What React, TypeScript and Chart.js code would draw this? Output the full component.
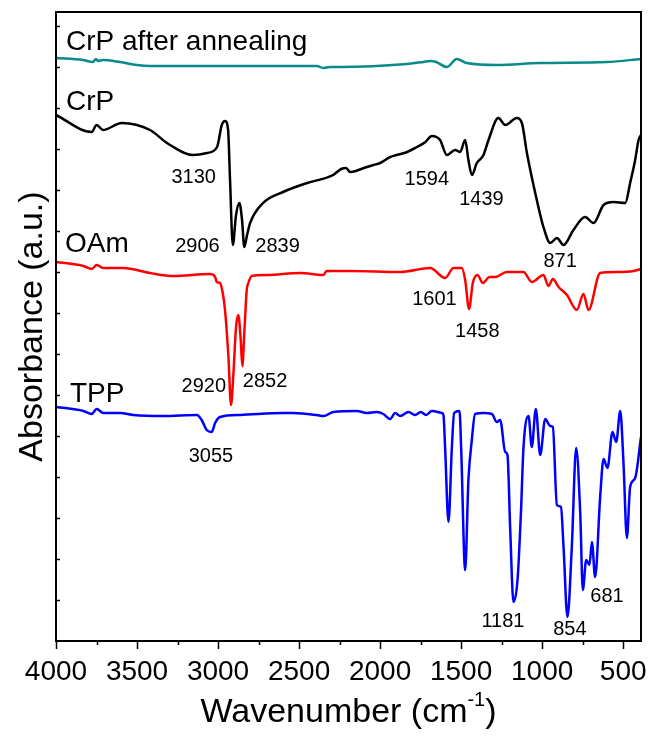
import React, { useEffect, useRef } from "react";
import { Chart, registerables } from "chart.js";

Chart.register(...registerables);

// ---- data (wavenumber in cm-1, absorbance in a.u., stacked/offset) ----
const crpAnnealWn = [4000, 3833, 3772, 3753, 3741, 3710, 3605, 3500, 3420, 3111, 2700, 2389, 2352, 2309, 2247, 1835, 1733, 1691, 1654, 1588, 1527, 1465, 1280, 1012, 600, 390];
const crpAnnealAbs = [5.83, 5.81, 5.79, 5.82, 5.80, 5.81, 5.79, 5.76, 5.75, 5.75, 5.75, 5.75, 5.73, 5.74, 5.74, 5.77, 5.79, 5.80, 5.79, 5.74, 5.82, 5.78, 5.76, 5.78, 5.79, 5.82];

const crpWn = [4000, 3780, 3749, 3710, 3594, 3420, 3315, 3154, 3068, 3006, 2977, 2957, 2938, 2926, 2909, 2889, 2868, 2852, 2838, 2821, 2802, 2722, 2599, 2451, 2290, 2240, 2210, 2185, 2150, 2100, 2041, 2000, 1938, 1900, 1850, 1773, 1720, 1681, 1630, 1588, 1537, 1506, 1475, 1455, 1434, 1403, 1362, 1331, 1270, 1228, 1156, 1125, 1094, 1033, 992, 950, 909, 868, 807, 735, 683, 621, 560, 487, 457, 426, 405, 390];
const crpAbs = [5.26, 5.09, 5.16, 5.11, 5.18, 5.11, 4.98, 4.86, 4.88, 4.94, 5.16, 5.20, 5.11, 4.61, 3.96, 4.26, 4.38, 4.21, 3.94, 4.06, 4.18, 4.38, 4.49, 4.58, 4.66, 4.72, 4.73, 4.69, 4.70, 4.73, 4.76, 4.78, 4.84, 4.86, 4.88, 4.94, 4.99, 5.05, 5.01, 4.86, 4.91, 4.89, 5.01, 4.81, 4.66, 4.78, 4.86, 5.01, 5.23, 5.16, 5.23, 5.18, 4.88, 4.41, 4.14, 3.98, 4.03, 3.96, 4.11, 4.24, 4.18, 4.36, 4.39, 4.38, 4.58, 4.81, 5.01, 5.06];

const oamWn = [4000, 3831, 3780, 3749, 3708, 3585, 3420, 3276, 3049, 3018, 3008, 2988, 2971, 2957, 2936, 2920, 2905, 2889, 2875, 2860, 2850, 2838, 2823, 2813, 2792, 2699, 2494, 2350, 2330, 2185, 1876, 1691, 1599, 1547, 1496, 1475, 1451, 1428, 1399, 1366, 1325, 1290, 1218, 1115, 1064, 992, 961, 934, 899, 847, 786, 745, 714, 642, 539, 436, 390];
const oamAbs = [3.79, 3.75, 3.72, 3.76, 3.73, 3.73, 3.68, 3.65, 3.67, 3.64, 3.59, 3.58, 3.48, 3.31, 2.84, 2.36, 2.68, 3.14, 3.26, 3.01, 2.75, 3.08, 3.51, 3.58, 3.65, 3.66, 3.68, 3.66, 3.70, 3.70, 3.69, 3.73, 3.63, 3.73, 3.73, 3.61, 3.32, 3.58, 3.66, 3.58, 3.64, 3.64, 3.69, 3.69, 3.59, 3.66, 3.55, 3.62, 3.54, 3.46, 3.31, 3.47, 3.31, 3.68, 3.69, 3.70, 3.72];

const tppWn = [4000, 3831, 3780, 3749, 3708, 3605, 3523, 3338, 3131, 3101, 3070, 3039, 3018, 2988, 2864, 2597, 2535, 2391, 2350, 2288, 2144, 2082, 2020, 1980, 1938, 1907, 1876, 1825, 1784, 1749, 1716, 1681, 1619, 1609, 1599, 1578, 1557, 1543, 1510, 1500, 1475, 1455, 1434, 1414, 1362, 1310, 1280, 1259, 1228, 1214, 1197, 1177, 1152, 1131, 1115, 1084, 1064, 1039, 1012, 981, 950, 934, 909, 884, 868, 844, 817, 790, 765, 749, 728, 708, 693, 673, 642, 621, 597, 566, 543, 518, 498, 477, 457, 426, 390];
const tppAbs = [2.34, 2.30, 2.27, 2.32, 2.28, 2.28, 2.26, 2.25, 2.26, 2.21, 2.11, 2.09, 2.18, 2.24, 2.26, 2.28, 2.28, 2.26, 2.25, 2.29, 2.30, 2.28, 2.29, 2.27, 2.22, 2.28, 2.25, 2.29, 2.26, 2.29, 2.26, 2.30, 2.28, 2.26, 1.94, 1.19, 1.94, 2.28, 2.30, 1.94, 0.71, 1.61, 2.01, 2.27, 2.28, 2.27, 2.19, 2.21, 1.89, 1.86, 1.11, 0.39, 0.61, 1.28, 1.94, 2.25, 1.94, 2.32, 1.86, 2.22, 2.15, 2.14, 1.36, 1.34, 0.94, 0.24, 0.94, 1.93, 1.28, 0.51, 0.81, 0.76, 0.99, 0.64, 1.44, 1.82, 1.73, 2.09, 1.99, 2.30, 1.78, 1.03, 1.54, 1.63, 2.04];

const seriesLabels = ["CrP after annealing", "CrP", "OAm", "TPP"];
const seriesColors = ["#0b8a8a", "#000000", "#ff0000", "#0000ff"];
const seriesLabelWn = [3938, 3938, 3944, 3914];
const seriesLabelAbs = [5.91, 5.31, 3.89, 2.39];

const peakLabels = ["3130", "2906", "2839", "1594", "1439", "871", "1601", "1458", "2920", "2852", "3055", "1181", "854", "681"];
const peakLabelWn = [3150, 3127, 2633, 1712, 1375, 889, 1665, 1400, 3088, 2710, 3044, 1242, 829, 600];
const peakLabelAbs = [4.58, 3.89, 3.89, 4.56, 4.36, 3.74, 3.36, 3.04, 2.49, 2.54, 1.79, 0.14, 0.06, 0.39];

const xTickValues = [4000, 3500, 3000, 2500, 2000, 1500, 1000, 500];
const xMinorTickValues = [3750, 3250, 2750, 2250, 1750, 1250, 750];
const yTickValues = [0.41, 0.82, 1.23, 1.64, 2.05, 2.46, 2.87, 3.28, 3.69, 4.1, 4.51, 4.92, 5.33, 5.74, 6.15];

const X_MIN = 390;
const X_MAX = 4000;
const Y_MIN = 0;
const Y_MAX = 6.29;

const FONT = "'Liberation Sans', Arial, Helvetica, sans-serif";

export default function App() {
  const ref = useRef<HTMLCanvasElement | null>(null);

  useEffect(() => {
    const canvas = ref.current;
    if (!canvas) return;

    const toPts = (wn: number[], ab: number[]) => wn.map((w, i) => ({ x: w, y: ab[i] }));
    const series = [
      toPts(crpAnnealWn, crpAnnealAbs),
      toPts(crpWn, crpAbs),
      toPts(oamWn, oamAbs),
      toPts(tppWn, tppAbs),
    ];

    const decor = {
      id: "ftirDecor",
      afterDatasetsDraw(chart: any) {
        const { ctx, chartArea: a } = chart;
        const x = chart.scales.x;
        const y = chart.scales.y;
        ctx.save();
        // frame
        ctx.strokeStyle = "#000";
        ctx.lineWidth = 2;
        ctx.strokeRect(a.left, a.top, a.right - a.left, a.bottom - a.top);
        // ticks
        ctx.lineWidth = 1.5;
        ctx.beginPath();
        for (const v of xTickValues) {
          const px = Math.round(x.getPixelForValue(v)) + 0.5;
          ctx.moveTo(px, a.bottom);
          ctx.lineTo(px, a.bottom + 8);
        }
        for (const v of xMinorTickValues) {
          const px = Math.round(x.getPixelForValue(v)) + 0.5;
          ctx.moveTo(px, a.bottom);
          ctx.lineTo(px, a.bottom + 4);
        }
        for (const v of yTickValues) {
          const py = Math.round(y.getPixelForValue(v)) + 0.5;
          ctx.moveTo(a.left, py);
          ctx.lineTo(a.left + 4, py);
        }
        ctx.stroke();

        // series labels
        ctx.fillStyle = "#000";
        ctx.textBaseline = "alphabetic";
        ctx.textAlign = "left";
        ctx.font = `28px ${FONT}`;
        seriesLabels.forEach((t, i) => {
          ctx.fillText(t, x.getPixelForValue(seriesLabelWn[i]), y.getPixelForValue(seriesLabelAbs[i]));
        });

        // peak labels
        ctx.textAlign = "center";
        ctx.font = `20px ${FONT}`;
        peakLabels.forEach((t, i) => {
          ctx.fillText(t, x.getPixelForValue(peakLabelWn[i]), y.getPixelForValue(peakLabelAbs[i]));
        });

        // x axis title with superscript
        const main = "Wavenumber (cm";
        const sup = "-1";
        const close = ")";
        ctx.textAlign = "left";
        ctx.font = `34px ${FONT}`;
        const mw = ctx.measureText(main).width;
        const cw = ctx.measureText(close).width;
        ctx.font = `20px ${FONT}`;
        const sw = ctx.measureText(sup).width;
        const total = mw + sw + cw;
        const cx = (a.left + a.right) / 2;
        const base = chart.height - 16;
        let sx = cx - total / 2;
        ctx.font = `34px ${FONT}`;
        ctx.fillText(main, sx, base);
        sx += mw;
        ctx.font = `20px ${FONT}`;
        ctx.fillText(sup, sx, base - 16);
        sx += sw;
        ctx.font = `34px ${FONT}`;
        ctx.fillText(close, sx, base);
        ctx.restore();
      },
    };

    const chart = new Chart(canvas, {
      type: "line",
      data: {
        datasets: series.map((pts, i) => ({
          label: seriesLabels[i],
          data: pts,
          borderColor: seriesColors[i],
          backgroundColor: seriesColors[i],
          borderWidth: 2.5,
          pointRadius: 0,
          fill: false,
          cubicInterpolationMode: "monotone" as const,
        })),
      },
      options: {
        responsive: false,
        animation: false,
        events: [],
        layout: { padding: { top: 12, right: 7, left: 0, bottom: 0 } },
        plugins: {
          legend: { display: false },
          tooltip: { enabled: false },
        },
        scales: {
          x: {
            type: "linear",
            reverse: true,
            min: X_MIN,
            max: X_MAX,
            grid: { display: false, drawTicks: false, tickLength: 0 },
            border: { display: false },
            afterBuildTicks: (s: any) => {
              s.ticks = xTickValues.map((v) => ({ value: v }));
            },
            afterFit: (s: any) => {
              s.height = 97;
              s.paddingLeft = 0;
              s.paddingRight = 0;
              s.paddingTop = 0;
              s.paddingBottom = 0;
            },
            ticks: {
              autoSkip: false,
              maxRotation: 0,
              padding: 14,
              color: "#000",
              font: { size: 28, family: FONT },
              callback: (v: any) => String(v),
            },
          },
          y: {
            type: "linear",
            min: Y_MIN,
            max: Y_MAX,
            grid: { display: false, drawTicks: false },
            border: { display: false },
            ticks: { display: false },
            afterFit: (s: any) => {
              s.width = 56;
              s.paddingLeft = 0;
              s.paddingRight = 0;
              s.paddingTop = 0;
              s.paddingBottom = 0;
            },
            title: {
              display: true,
              text: "Absorbance (a.u.)",
              color: "#000",
              font: { size: 34, family: FONT },
              padding: { top: 12, bottom: 0 },
            },
          },
        },
      },
      plugins: [decor],
    });

    return () => chart.destroy();
  }, []);

  return (
    <div style={{ position: "absolute", left: 0, top: 0, width: 648, height: 738, background: "#fff" }}>
      <canvas ref={ref} width={648} height={738} style={{ display: "block", width: 648, height: 738 }} />
    </div>
  );
}
